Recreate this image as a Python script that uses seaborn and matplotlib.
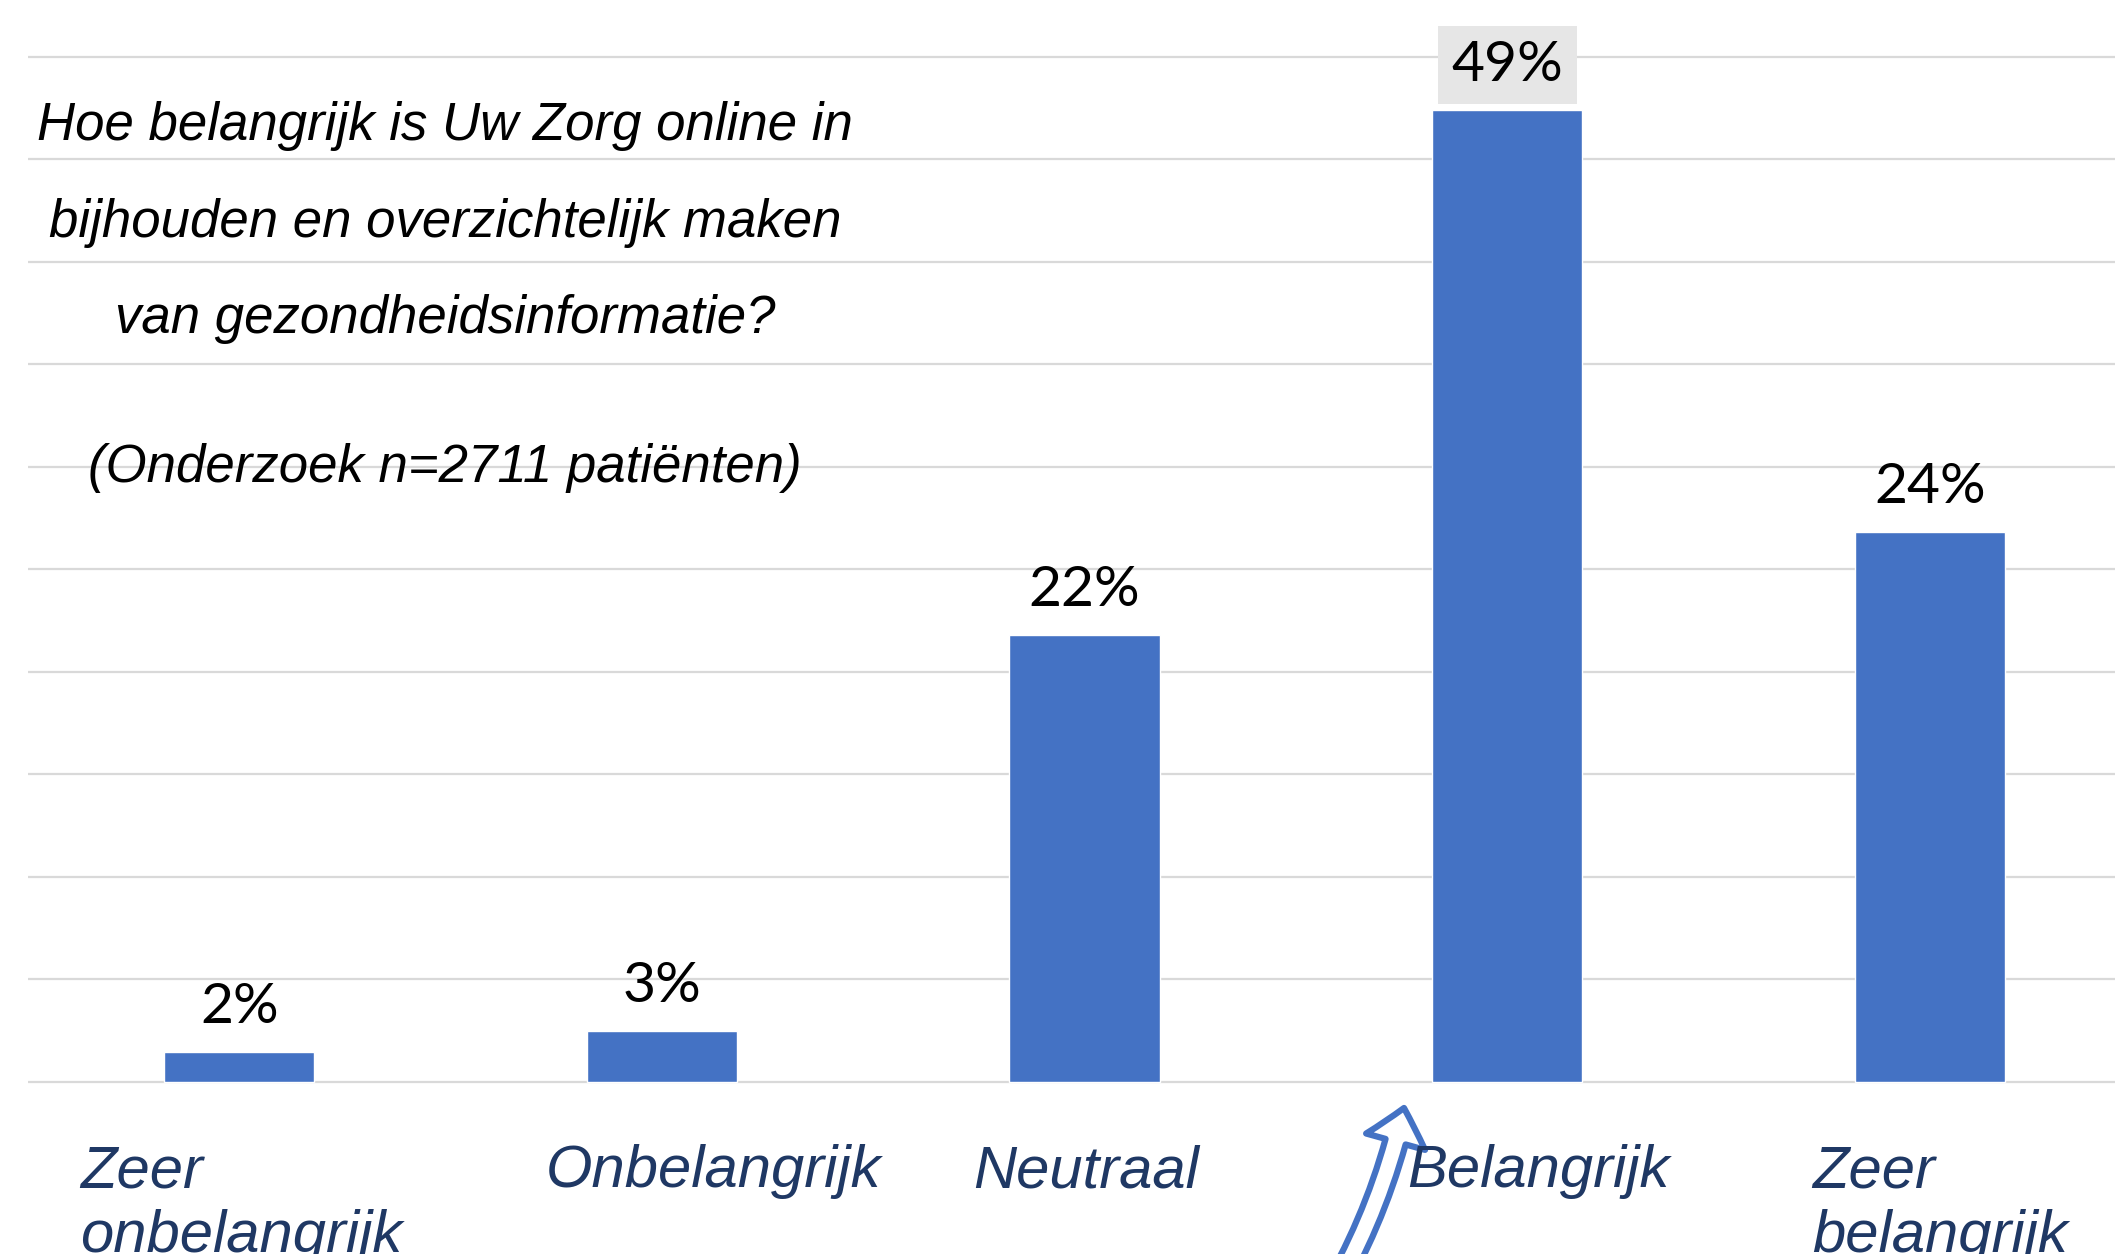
import matplotlib
matplotlib.use('Agg')
import matplotlib.pyplot as plt
from matplotlib.patches import FancyArrowPatch
import pandas as pd
import seaborn as sns

# data
categories = ['Zeer onbelangrijk', 'Onbelangrijk', 'Neutraal', 'Belangrijk', 'Zeer belangrijk']
heights = [1.45, 2.5, 21.8, 47.4, 26.8]          # drawn bar heights, axis in %
value_labels = ['2%', '3%', '22%', '49%', '24%']  # printed labels
tick_labels = ['Zeer\nonbelangrijk', 'Onbelangrijk', 'Neutraal', 'Belangrijk', 'Zeer\nbelangrijk']
title_lines = ['Hoe belangrijk is Uw Zorg online in',
               'bijhouden en overzichtelijk maken',
               'van gezondheidsinformatie?',
               '(Onderzoek n=2711 patiënten)']

W, H = 2115, 1254
BLUE = '#4472C4'
NAVY = '#1F3864'


def fx(px):
    return px / W


def fy(py):
    return 1 - py / H


sns.set_style('white')
fig = plt.figure(figsize=(W / 100, H / 100), dpi=100)

unit = (1082 - 56.6) / 50  # pixels per percent
ax = fig.add_axes([fx(28), fy(1082 + 0.1 * unit), 5 * 422.6 / W, 50.2 * unit / H])

df = pd.DataFrame({'cat': categories, 'h': heights})
sns.barplot(data=df, x='cat', y='h', color=BLUE, saturation=1, width=0.355, ax=ax)
ax.set_xlim(-0.5, 4.5)
ax.set_ylim(-0.1, 50.1)
ax.set_yticks(range(0, 51, 5))
ax.yaxis.grid(True, color='#D9D9D9', lw=1.6)
ax.xaxis.grid(False)
ax.set_axisbelow(True)
ax.tick_params(left=False, bottom=False, labelleft=False, labelbottom=False)
ax.set_xlabel('')
ax.set_ylabel('')
sns.despine(ax=ax, left=True, bottom=True)

for i, (h, lab) in enumerate(zip(heights, value_labels)):
    t = ax.annotate(lab, (i, h), xytext=(0, 21), textcoords='offset points',
                    ha='center', va='baseline', fontsize=41, family='Lato', color='black')
    if h == max(heights):
        t.set_bbox(dict(boxstyle='square,pad=0.24', fc='#E6E6E6', ec='none'))

# question text
title_y = [140, 237, 333, 482]
for line, y in zip(title_lines, title_y):
    fig.text(fx(445), fy(y), line, ha='center', va='baseline', fontsize=38,
             family='Liberation Sans', style='italic', color='black')

# category labels
label_x = [80, 714, 1086, 1538, 1812]
label_ha = ['left', 'center', 'center', 'center', 'left']
for lab, x, ha in zip(tick_labels, label_x, label_ha):
    for k, part in enumerate(lab.split('\n')):
        fig.text(fx(x), fy(1187 + 65 * k), part, ha=ha, va='baseline', fontsize=43,
                 family='Liberation Sans', style='italic', color=NAVY)

# hollow curved arrow pointing at "Belangrijk"
arrow = FancyArrowPatch((fx(1328), fy(1300)), (fx(1404), fy(1108)), transform=fig.transFigure,
                        arrowstyle='simple,head_width=44,head_length=25,tail_width=15',
                        connectionstyle='arc3,rad=0.08', mutation_scale=1,
                        shrinkA=0, shrinkB=0, fc='white', ec=BLUE, lw=4.5)
fig.add_artist(arrow)

fig.savefig('out.png', dpi=100)
